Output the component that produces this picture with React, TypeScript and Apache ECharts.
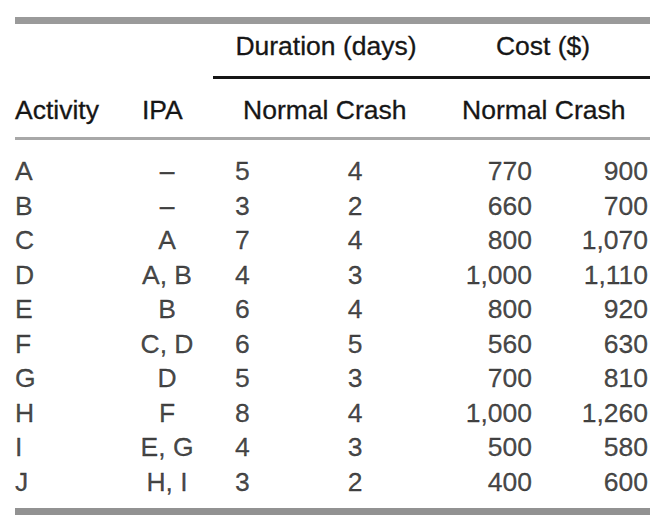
import React, { useEffect, useRef } from "react";
import * as echarts from "echarts";

// ---- data ----
const activities = ["A", "B", "C", "D", "E", "F", "G", "H", "I", "J"];
const ipa = ["–", "–", "A", "A, B", "B", "C, D", "D", "F", "E, G", "H, I"];
const durationNormal = [5, 3, 7, 4, 6, 6, 5, 8, 4, 3];
const durationCrash = [4, 2, 4, 3, 4, 5, 3, 4, 3, 2];
const costNormal = [770, 660, 800, 1000, 800, 560, 700, 1000, 500, 400];
const costCrash = [900, 700, 1070, 1110, 920, 630, 810, 1260, 580, 600];
const groupHeaders = ["Duration (days)", "Cost ($)"];
const columnHeaders = ["Activity", "IPA", "Normal Crash", "Normal Crash"];

// ---- layout / style ----
const FONT = "'Liberation Sans', Arial, sans-serif";
const FS = 26.5;
const TEXT = "#161616";

const fmt = (v: number) => v.toLocaleString("en-US");

const columns = [
  { values: activities.map(String), x: 15, align: "left" },
  { values: ipa, x: 167, align: "center" },
  { values: durationNormal.map(String), x: 235, align: "left" },
  { values: durationCrash.map(String), x: 355, align: "center" },
  { values: costNormal.map(fmt), x: 532, align: "right" },
  { values: costCrash.map(fmt), x: 648, align: "right" },
];

const groupHeaderPos = [
  { x: 326, y: 46, align: "center" },
  { x: 543, y: 46, align: "center" },
];
const columnHeaderPos = [
  { x: 15, y: 110, align: "left" },
  { x: 142, y: 110, align: "left" },
  { x: 243, y: 110, align: "left" },
  { x: 462, y: 110, align: "left" },
];

export default function App() {
  const ref = useRef<HTMLDivElement>(null);
  useEffect(() => {
    if (!ref.current) return;
    const chart = echarts.init(ref.current, null, { renderer: "svg" });

    const series = columns.map((col) => ({
      type: "scatter",
      silent: true,
      symbolSize: 1,
      itemStyle: { color: "rgba(0,0,0,0)" },
      data: col.values.map((_, i) => [col.x, i]),
      label: {
        show: true,
        position: "inside",
        align: col.align,
        verticalAlign: "middle",
        fontSize: FS,
        fontFamily: FONT,
        color: TEXT,
        textBorderColor: TEXT,
        textBorderWidth: 0.3,
        formatter: (p: any) => col.values[p.dataIndex],
      },
    }));

    const textEl = (text: string, pos: any) => ({
      type: "text",
      x: pos.x,
      y: pos.y,
      silent: true,
      style: {
        text,
        fill: TEXT,
        stroke: TEXT,
        lineWidth: 0.3,
        fontSize: FS,
        fontFamily: FONT,
        align: pos.align,
        verticalAlign: "middle",
      },
    });

    const graphic: any[] = [
      { type: "rect", shape: { x: 15, y: 17, width: 635, height: 7 }, style: { fill: "#9a9a9a" }, silent: true },
      { type: "rect", shape: { x: 213, y: 76, width: 437, height: 3 }, style: { fill: "#151515" }, silent: true },
      { type: "rect", shape: { x: 15, y: 137, width: 635, height: 3 }, style: { fill: "#a8a8a8" }, silent: true },
      { type: "rect", shape: { x: 15, y: 508, width: 635, height: 7 }, style: { fill: "#929292" }, silent: true },
      ...groupHeaders.map((t, i) => textEl(t, groupHeaderPos[i])),
      ...columnHeaders.map((t, i) => textEl(t, columnHeaderPos[i])),
    ];

    chart.setOption({
      animation: false,
      backgroundColor: "#ffffff",
      grid: { left: 0, right: 0, top: 153.75, bottom: 27.25 },
      xAxis: { type: "value", min: 0, max: 660, show: false },
      yAxis: {
        type: "category",
        data: activities,
        inverse: true,
        show: false,
        boundaryGap: true,
      },
      series: series as any,
      graphic,
    });
    return () => chart.dispose();
  }, []);
  return (
    <div
      ref={ref}
      style={{ position: "fixed", left: 0, top: 0, width: 660, height: 526, background: "#fff" }}
    />
  );
}
